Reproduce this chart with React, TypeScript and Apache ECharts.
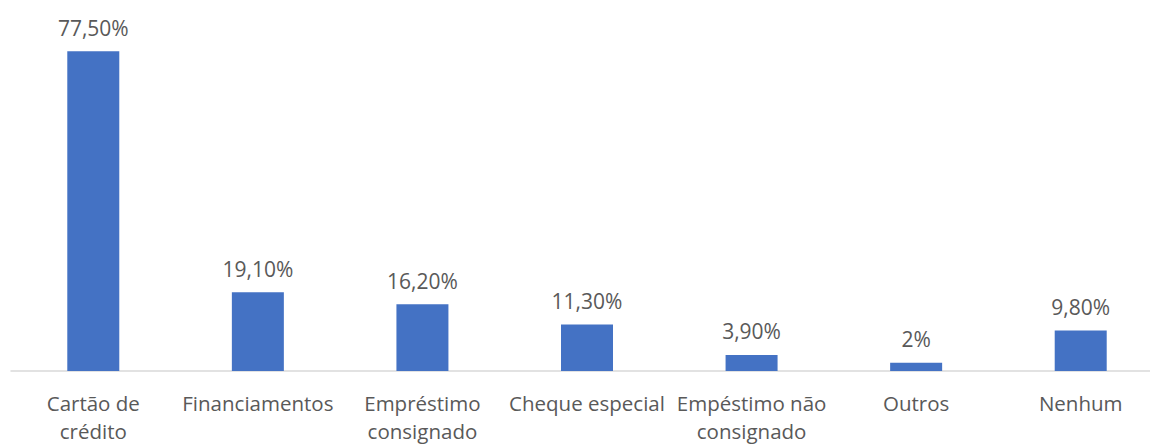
import React, { useEffect, useRef } from "react";
import * as echarts from "echarts";

const categories = [
  "Cartão de\ncrédito",
  "Financiamentos",
  "Empréstimo\nconsignado",
  "Cheque especial",
  "Empéstimo não\nconsignado",
  "Outros",
  "Nenhum",
];
const values = [77.5, 19.1, 16.2, 11.3, 3.9, 2, 9.8];

const fmt = (v: number) =>
  Number.isInteger(v) ? `${v}%` : `${v.toFixed(2).replace(".", ",")}%`;

export default function App() {
  const ref = useRef<HTMLDivElement>(null);
  useEffect(() => {
    if (!ref.current) return;
    const chart = echarts.init(ref.current, null, { renderer: "svg" });
    chart.setOption({
      animation: false,
      grid: { left: 11, right: 2, top: 41, bottom: 72 },
      xAxis: {
        type: "category",
        data: categories,
        axisLine: { lineStyle: { color: "#d9d9d9", width: 1.5 } },
        axisTick: { show: false },
        axisLabel: {
          interval: 0,
          margin: 18,
          color: "#595959",
          fontFamily: "Open Sans",
          fontSize: 20.5,
          lineHeight: 28,
        },
      },
      yAxis: {
        type: "value",
        min: 0,
        max: 80,
        show: false,
        splitLine: { show: false },
      },
      series: [
        {
          type: "bar",
          data: values,
          barWidth: 52,
          itemStyle: { color: "#4472C4" },
          label: {
            show: true,
            position: "top",
            distance: 13,
            color: "#595959",
            fontFamily: "Open Sans",
            fontSize: 21,
            formatter: (p: any) => fmt(p.value),
          },
        },
      ],
    });
    return () => chart.dispose();
  }, []);
  return (
    <div
      style={{ position: "fixed", left: 0, top: 0, width: 1150, height: 445, overflow: "hidden", background: "#fff" }}
    >
      <div ref={ref} style={{ width: 1165, height: 445 }} />
    </div>
  );
}
